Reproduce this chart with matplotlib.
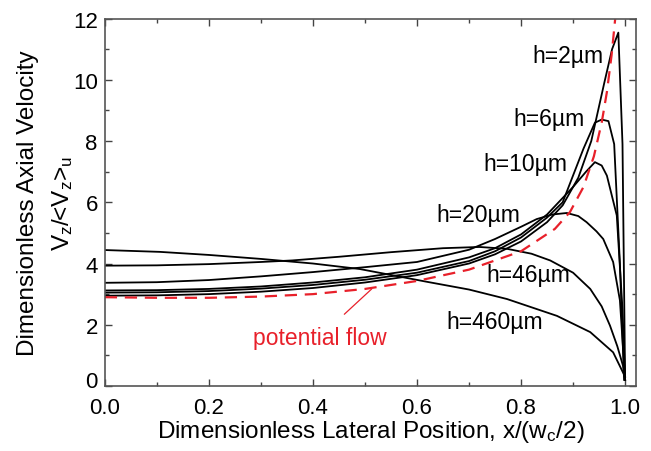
import matplotlib
matplotlib.use("Agg")
import matplotlib.pyplot as plt
from matplotlib.ticker import MultipleLocator
from matplotlib.transforms import ScaledTranslation

plt.rcParams['font.family'] = ['Liberation Sans', 'DejaVu Sans']
plt.rcParams['mathtext.fontset'] = 'custom'
plt.rcParams['mathtext.rm'] = 'Liberation Sans'
plt.rcParams['mathtext.it'] = 'Liberation Sans'

# velocity profiles
x_h2 = [0, 0.1, 0.2, 0.3, 0.4, 0.5, 0.6, 0.7, 0.75, 0.8, 0.85, 0.88, 0.91, 0.935, 0.96, 0.975, 0.987, 0.995, 1.0]
y_h2 = [2.95, 2.96, 3.0, 3.08, 3.2, 3.38, 3.62, 4.0, 4.3, 4.72, 5.35, 5.9, 6.8, 8.0, 9.9, 11.0, 11.54, 7.9, 0.2]

x_h6 = [0, 0.1, 0.2, 0.3, 0.4, 0.5, 0.6, 0.7, 0.75, 0.8, 0.85, 0.88, 0.92, 0.942, 0.955, 0.968, 0.979, 0.99, 0.998]
y_h6 = [3.05, 3.06, 3.1, 3.18, 3.3, 3.47, 3.7, 4.08, 4.4, 4.85, 5.5, 6.0, 7.75, 8.6, 8.7, 8.65, 7.9, 4.0, 0.2]

x_h10 = [0, 0.1, 0.2, 0.3, 0.4, 0.5, 0.6, 0.7, 0.75, 0.8, 0.85, 0.9, 0.925, 0.942, 0.955, 0.965, 0.984, 0.995, 1.0]
y_h10 = [3.12, 3.13, 3.17, 3.25, 3.38, 3.55, 3.8, 4.2, 4.5, 4.95, 5.6, 6.5, 7.0, 7.31, 7.2, 6.87, 5.57, 2.5, 0.2]

x_h20 = [0, 0.1, 0.2, 0.3, 0.4, 0.5, 0.6, 0.7, 0.75, 0.8, 0.83, 0.86, 0.888, 0.91, 0.926, 0.945, 0.958, 0.977, 0.99, 1.0]
y_h20 = [3.37, 3.39, 3.46, 3.58, 3.72, 3.88, 4.05, 4.45, 4.8, 5.2, 5.45, 5.6, 5.65, 5.55, 5.35, 5.05, 4.8, 4.05, 2.8, 0.2]

x_h46 = [0, 0.1, 0.2, 0.3, 0.36, 0.45, 0.55, 0.65, 0.72, 0.773, 0.82, 0.856, 0.9, 0.933, 0.955, 0.971, 0.985, 0.996, 1.0]
y_h46 = [3.93, 3.94, 3.98, 4.05, 4.1, 4.22, 4.37, 4.5, 4.54, 4.48, 4.32, 4.1, 3.7, 3.17, 2.6, 1.97, 1.3, 0.66, 0.2]

x_h460 = [0, 0.106, 0.2, 0.3, 0.4, 0.49, 0.62, 0.7, 0.773, 0.869, 0.933, 0.977, 1.0]
y_h460 = [4.44, 4.38, 4.28, 4.15, 4.0, 3.82, 3.4, 3.15, 2.84, 2.29, 1.76, 1.1, 0.3]

x_pot = [0, 0.1, 0.2, 0.3, 0.4, 0.5, 0.6, 0.7, 0.8, 0.865, 0.894, 0.92, 0.94, 0.955, 0.965, 0.974, 0.981, 0.986]
y_pot = [2.9, 2.88, 2.88, 2.92, 3.0, 3.17, 3.43, 3.8, 4.4, 5.13, 5.68, 6.5, 7.5, 8.6, 9.6, 10.8, 12.0, 13.0]

labels = ["h=2\u00b5m", "h=6\u00b5m", "h=10\u00b5m", "h=20\u00b5m", "h=46\u00b5m", "h=460\u00b5m"]
label_x = [0.958, 0.923, 0.89, 0.798, 0.894, 0.842]
label_y = [10.8, 8.72, 7.25, 5.6, 3.63, 2.12]

fig = plt.figure(figsize=(6.51, 4.52), dpi=100)
ax = fig.add_axes([0.161, 0.1438, 0.816, 0.813])

for xs, ys in [(x_h2, y_h2), (x_h6, y_h6), (x_h10, y_h10), (x_h20, y_h20),
               (x_h46, y_h46), (x_h460, y_h460)]:
    ax.plot(xs, ys, color='black', lw=1.3)
ax.plot(x_pot, y_pot, color='#e8202a', lw=1.6, ls=(0, (5.5, 3.5)))

for t, lx, ly in zip(labels, label_x, label_y):
    ax.text(lx, ly, t, fontsize=16.5, ha='right', va='center')

ax.annotate("potential flow", xy=(0.513, 3.17), xytext=(0.413, 1.6),
            color='#e8202a', fontsize=16.5, ha='center', va='center',
            arrowprops=dict(arrowstyle='-', color='#e8202a', lw=0.9,
                            shrinkA=9, shrinkB=0))

ax.set_xlim(0, 1.021)
ax.set_ylim(0, 12)
ax.xaxis.set_major_locator(MultipleLocator(0.2))
ax.xaxis.set_minor_locator(MultipleLocator(0.1))
ax.yaxis.set_major_locator(MultipleLocator(2))
ax.yaxis.set_minor_locator(MultipleLocator(1))
ax.xaxis.set_major_formatter(plt.FormatStrFormatter('%.1f'))
ax.tick_params(which='both', direction='in', top=True, right=True,
               labelsize=16, color='#444444')
ax.tick_params(which='major', length=5, width=1, pad=5)
ax.tick_params(axis='x', which='major', pad=8)
ax.tick_params(which='minor', length=3, width=1)
for s in ax.spines.values():
    s.set_color('#555555')
    s.set_linewidth(1.2)

ax.set_xlabel(r"Dimensionless Lateral Position, x/(w$\mathregular{_c}$/2)", fontsize=17.5, labelpad=0)
fig.text(28 / 651, 0.55, "Dimensionless Axial Velocity", rotation=90,
         fontsize=17.5, ha='center', va='center')
fig.text(63 / 651, 0.55, r"V$\mathregular{_z}$/<V$\mathregular{_z}$>$\mathregular{_u}$", rotation=90,
         fontsize=17.5, ha='center', va='center')

# lift the "0" on the y axis a little so it sits above "0.0"
fig.canvas.draw()
for lab in ax.get_yticklabels():
    if lab.get_text() == '0':
        lab.set_transform(lab.get_transform() + ScaledTranslation(0, 5 / 72, fig.dpi_scale_trans))

fig.savefig("out.png", dpi=100)
